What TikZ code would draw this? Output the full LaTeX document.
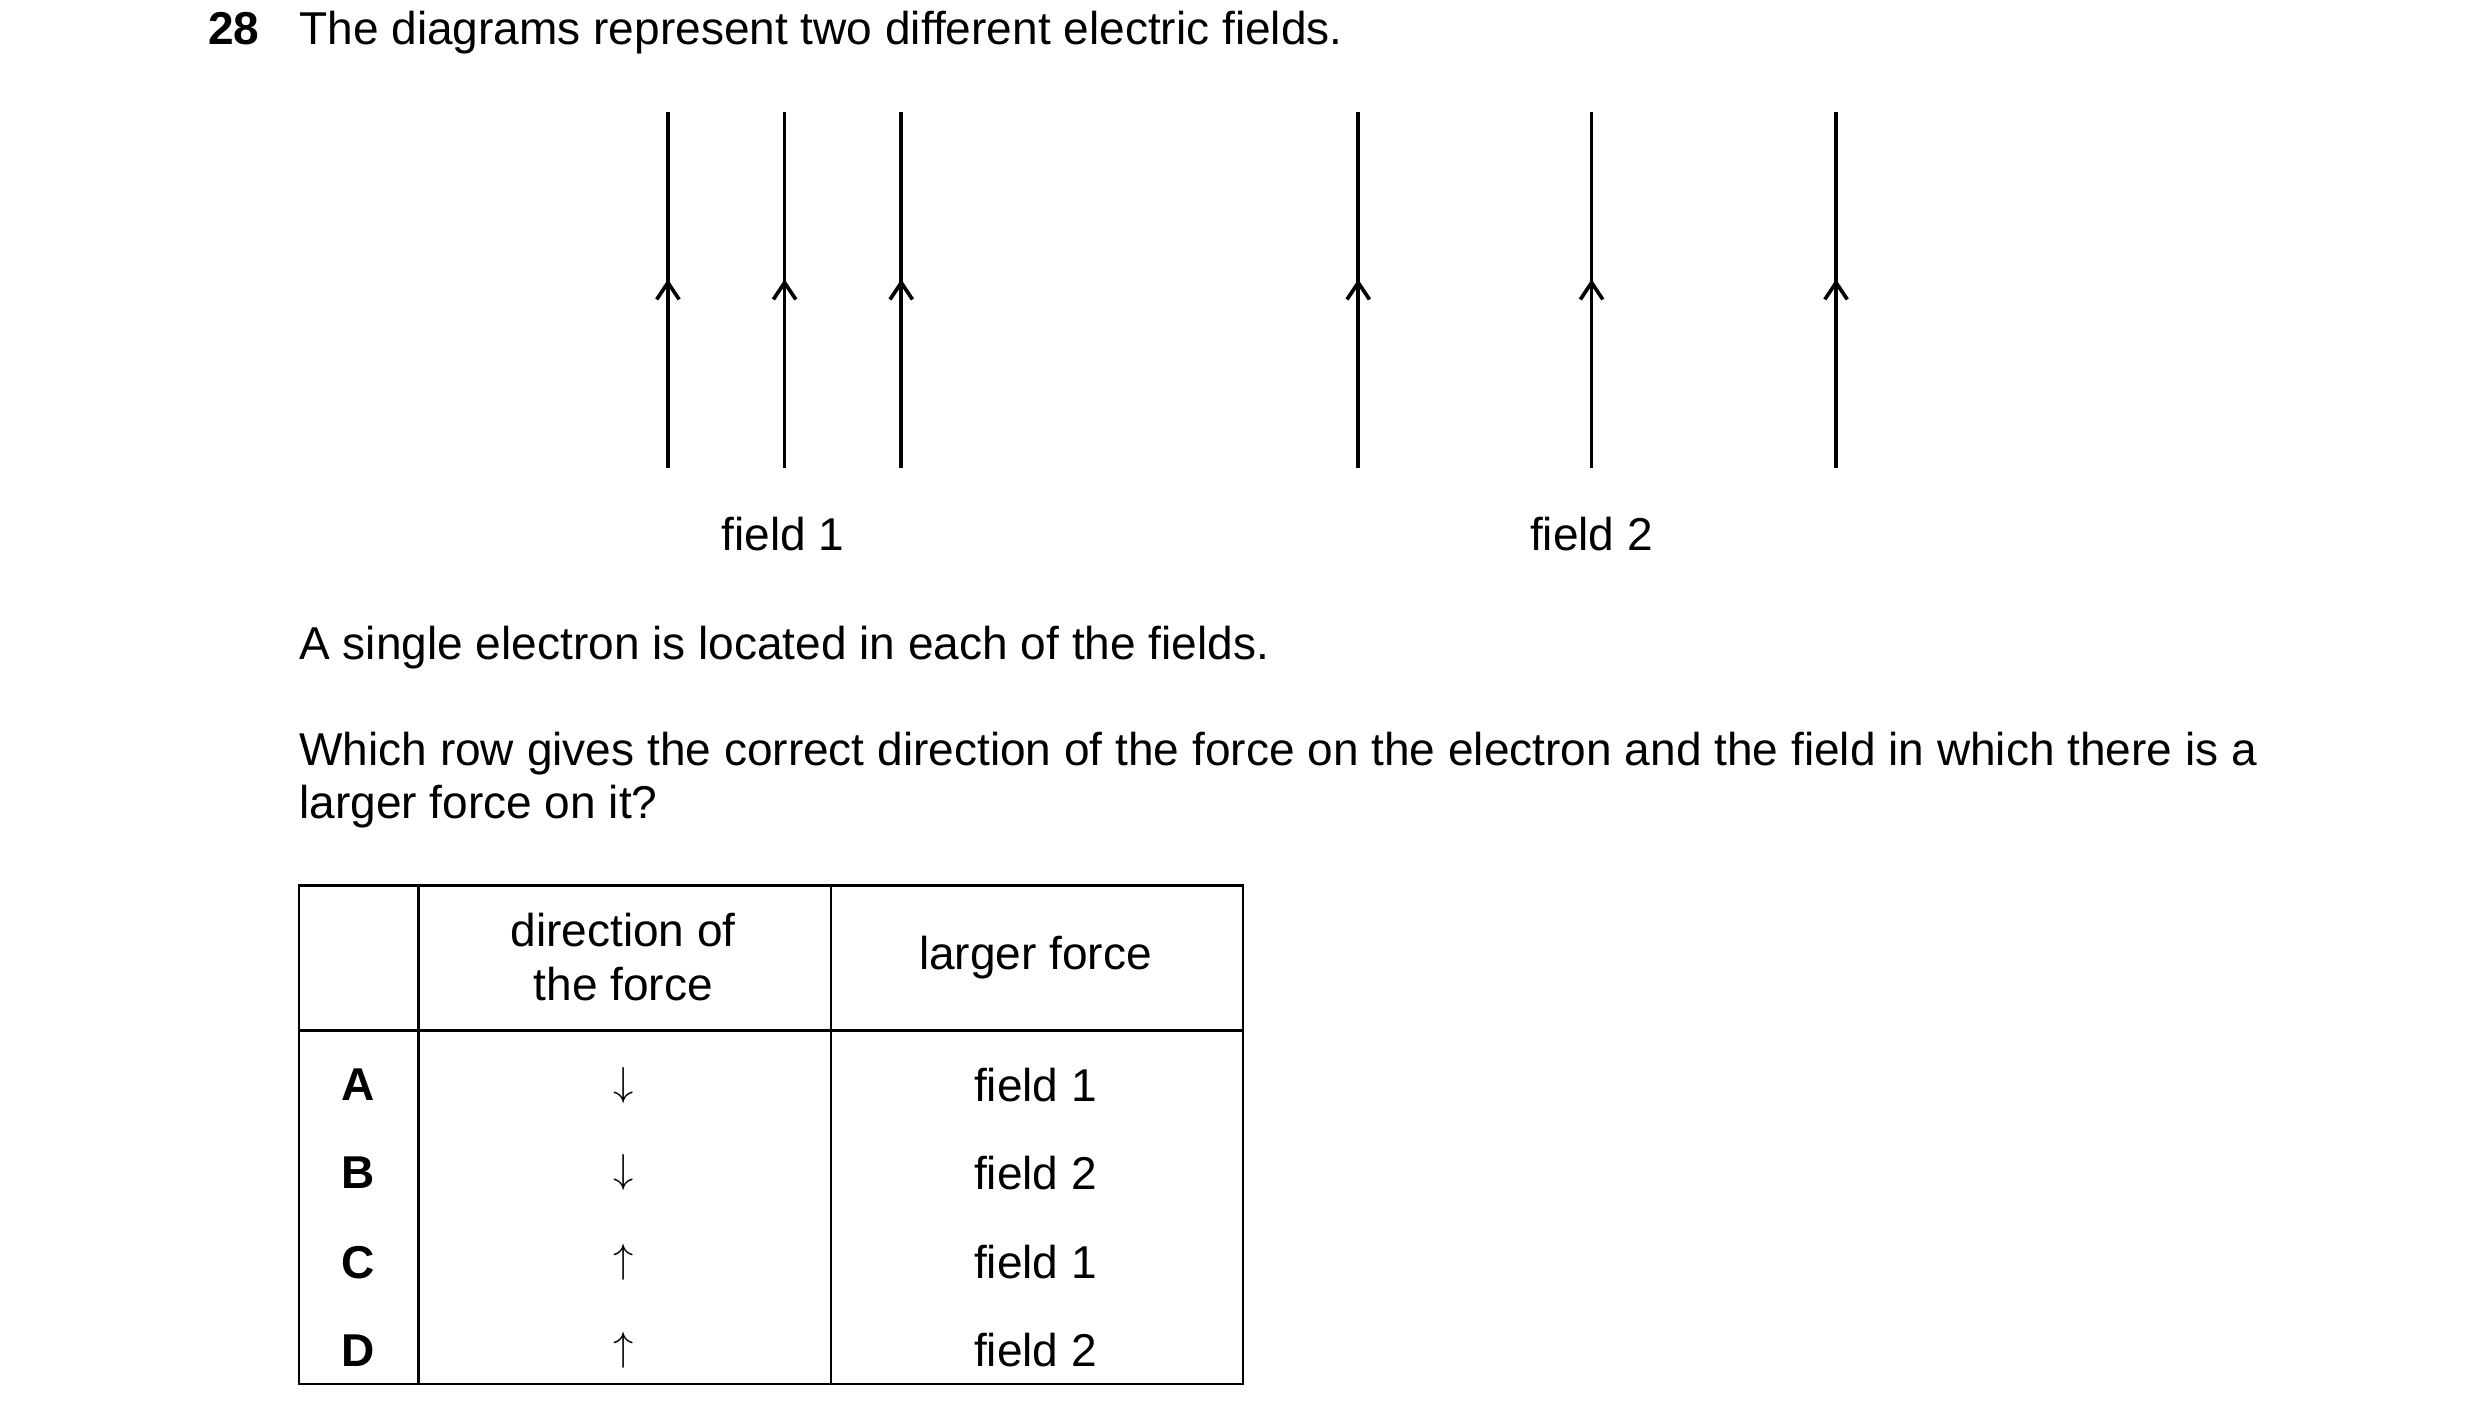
\documentclass[tikz,border=0pt]{standalone}
\usepackage{fontspec}
\setmainfont{Liberation Sans}
\usetikzlibrary{arrows.meta,decorations.markings}
\begin{document}
\begin{tikzpicture}[x=0.02cm,y=-0.02cm,
  fl/.style={line width=1.3pt,decoration={markings,mark=at position 0.53 with {\arrow{Straight Barb[length=6pt,width=8pt]}}},postaction=decorate},
  txt/.style={font=\fontsize{16.4}{19}\selectfont,inner sep=0pt},
  tl/.style={line width=0.9pt}]
\useasboundingbox (0,0) rectangle (1552,884);
\node[txt,anchor=base west,font=\fontsize{16.4}{19}\selectfont\bfseries] (num) at (130,28) {28};
\node[txt,anchor=base west] (title) at (187,28) {The diagrams represent two different electric fields.};
\foreach \x/\n in {418/a,491/b,564/c,850/d,996/e,1149/f}{
  \coordinate (\n0) at (\x,293); \coordinate (\n1) at (\x,70);
  \draw[fl] (\n0) -- (\n1);}
\node[txt] (f1) at (490,334) {field 1};
\node[txt] (f2) at (996,334) {field 2};
\node[txt,anchor=base west] (l1) at (187,413) {A single electron is located in each of the fields.};
\node[txt,anchor=base west] (l2) at (187,479) {Which row gives the correct direction of the force on the electron and the field in which there is a};
\node[txt,anchor=base west] (l3) at (187,512) {larger force on it?};
\draw[tl] (187,554) rectangle (778,866);
\draw[tl] (262,554) -- (262,866);
\draw[tl] (520,554) -- (520,866);
\draw[tl] (187,645) -- (778,645);
\node[txt,align=center,font=\fontsize{16.4}{19}\selectfont] (h1) at (390,599) {direction of\\the force};
\node[txt] (h2) at (648,599) {larger force};
\foreach \y/\L/\a/\f in {679/A/\downarrow/1,734/B/\downarrow/2,790/C/\uparrow/1,845/D/\uparrow/2}{
  \node[txt,font=\fontsize{16.4}{19}\selectfont\bfseries] (r\L) at (224,\y) {\L};
  \node[txt] (a\L) at (390,\y) {\Large$\a$};
  \node[txt] (t\L) at (648,\y) {field \f};}
\end{tikzpicture}
\end{document}
